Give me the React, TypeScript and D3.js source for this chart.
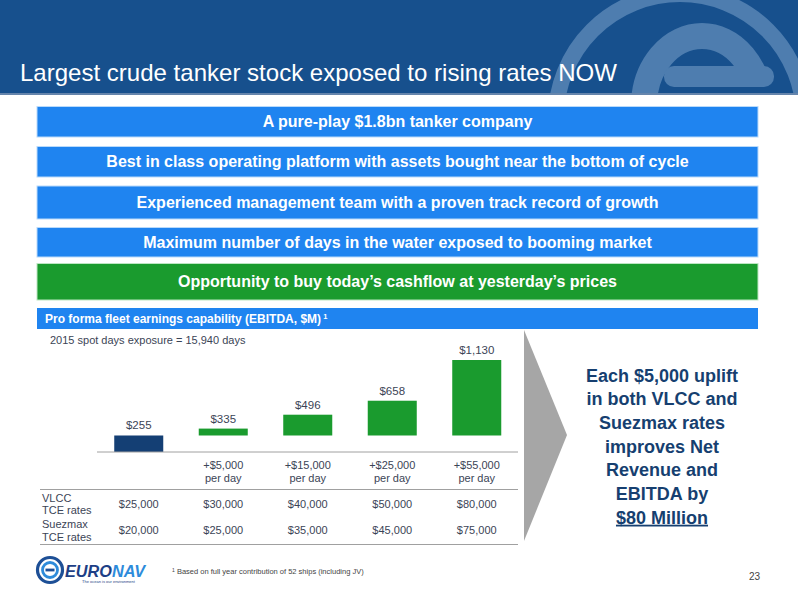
import React from "react";
import * as d3 from "d3";

// ---------- data ----------
const titleText = "Largest crude tanker stock exposed to rising rates NOW";
const bannerTexts = [
  "A pure-play $1.8bn tanker company",
  "Best in class operating platform with assets bought near the bottom of cycle",
  "Experienced management team with a proven track record of growth",
  "Maximum number of days in the water exposed to booming market",
  "Opportunity to buy today\u2019s cashflow at yesterday\u2019s prices",
];
const bannerHighlight = [false, false, false, false, true];
const chartTitle = "Pro forma fleet earnings capability (EBITDA, $M)";
const exposureNote = "2015 spot days exposure = 15,940 days";
const scenarios = ["Base", "+$5,000", "+$15,000", "+$25,000", "+$55,000"];
const upliftUnit = "per day";
const ebitdaValues = [255, 335, 496, 658, 1130];
const vlccRates = [25000, 30000, 40000, 50000, 80000];
const suezmaxRates = [20000, 25000, 35000, 45000, 75000];
const rowLabels = [["VLCC", "TCE rates"], ["Suezmax", "TCE rates"]];
const calloutLines = [
  "Each $5,000 uplift",
  "in both VLCC and",
  "Suezmax rates",
  "improves Net",
  "Revenue and",
  "EBITDA by",
];
const calloutEmphasis = "$80 Million";
const footnote = "Based on full year contribution of 52 ships (including JV)";
const pageNumber = "23";

// ---------- style ----------
const FONT = "'Liberation Sans', Arial, Helvetica, sans-serif";
const HEADER = "#17508D";
const HEADER_LIGHT = "#4E7DAF";
const BLUE = "#1F84F0";
const GREEN = "#1A9B2E";
const NAVY_BAR = "#143F74";
const TEXT = "#3B4456";
const NAVY_TEXT = "#163F70";

const fmtMoney = (v: number) => "$" + d3.format(",")(v);

export default function App() {
  const W = 798;
  const H = 600;

  // bar chart scales
  const x = d3
    .scaleBand<number>()
    .domain(d3.range(ebitdaValues.length))
    .range([96.5, 519])
    .paddingInner(0.42)
    .paddingOuter(0.21);
  const y = d3.scaleLinear().domain([0, 1130]).range([457.5, 360]);
  const axisY = 452;
  const base = ebitdaValues[0];

  const bannerTops = [106.5, 146.5, 186, 227.5, 263.5];
  const bannerHeights = [30.5, 30.5, 33, 29.5, 36.5];

  return (
    <svg
      width={W}
      height={H}
      viewBox={`0 0 ${W} ${H}`}
      style={{ position: "absolute", left: 0, top: 0, background: "#fff" }}
      fontFamily={FONT}
    >
      <defs>
        <clipPath id="hdrClip">
          <rect x={0} y={0} width={W} height={93} />
        </clipPath>
        <clipPath id="cClip">
          <rect x={0} y={0} width={W} height={72} />
          <rect x={0} y={0} width={700} height={93} />
        </clipPath>
      </defs>

      {/* header */}
      <rect x={0} y={0} width={W} height={93} fill={HEADER} />
      <g clipPath="url(#hdrClip)">
        <ellipse cx={680} cy={118} rx={124} ry={124} fill="none" stroke={HEADER_LIGHT} strokeWidth={16} />
        <g clipPath="url(#cClip)">
          <ellipse cx={702} cy={106} rx={58} ry={70} fill="none" stroke={HEADER_LIGHT} strokeWidth={26} />
        </g>
        <rect x={664} y={66} width={110} height={21} rx={10} fill={HEADER_LIGHT} />
      </g>
      <rect x={0} y={93} width={W} height={2} fill="#6585AC" />
      <text x={20} y={81} fill="#fff" fontSize={24} textLength={597} lengthAdjust="spacingAndGlyphs">
        {titleText}
      </text>

      {/* banners */}
      {bannerTexts.map((t, i) => (
        <g key={i}>
          <rect
            x={37}
            y={bannerTops[i]}
            width={721}
            height={bannerHeights[i]}
            fill={bannerHighlight[i] ? GREEN : BLUE}
            stroke={bannerHighlight[i] ? "#BDE6C2" : "#B9DAFB"}
            strokeWidth={1}
          />
          <text
            x={397.5}
            y={bannerTops[i] + bannerHeights[i] / 2 + 5.5}
            textAnchor="middle"
            fill="#fff"
            fontWeight="bold"
            fontSize={16}
          >
            {t}
          </text>
        </g>
      ))}

      {/* chart header strip */}
      <rect x={37} y={308} width={721} height={21} fill={BLUE} />
      <text x={45} y={323} fill="#fff" fontWeight="bold" fontSize={12}>
        {chartTitle}
        <tspan fontSize={7.5} dy={-4}> 1</tspan>
      </text>

      {/* arrow */}
      <path d="M524,330 L567,435 L524,541 Z" fill="#A6A6A6" />

      <text x={50} y={344} fill={TEXT} fontSize={11}>
        {exposureNote}
      </text>

      {/* bars */}
      {ebitdaValues.map((v, i) => {
        const x0 = x(i) as number;
        const top = y(v);
        const bottom = i === 0 ? axisY : y(base);
        return (
          <g key={i}>
            <rect
              x={x0}
              y={top}
              width={x.bandwidth()}
              height={bottom - top}
              fill={i === 0 ? NAVY_BAR : GREEN}
            />
            <text x={x0 + x.bandwidth() / 2} y={top - 6} textAnchor="middle" fill={TEXT} fontSize={11.5}>
              {fmtMoney(v)}
            </text>
          </g>
        );
      })}
      <line x1={97} x2={518} y1={axisY} y2={axisY} stroke="#A0A0A0" strokeWidth={1} />

      {/* table header */}
      {scenarios.map((s, i) =>
        i === 0 ? null : (
          <g key={s}>
            <text x={(x(i) as number) + x.bandwidth() / 2} y={469} textAnchor="middle" fill={TEXT} fontSize={11}>
              {s}
            </text>
            <text x={(x(i) as number) + x.bandwidth() / 2} y={482} textAnchor="middle" fill={TEXT} fontSize={11}>
              {upliftUnit}
            </text>
          </g>
        )
      )}
      <line x1={40} x2={518} y1={489.5} y2={489.5} stroke="#A0A0A0" strokeWidth={1} />

      {[vlccRates, suezmaxRates].map((row, r) => {
        const rowY = r === 0 ? 507.5 : 534;
        return (
          <g key={r}>
            <text x={42} y={rowY - 6} fill={TEXT} fontSize={11}>
              {rowLabels[r][0]}
            </text>
            <text x={42} y={rowY + 6.5} fill={TEXT} fontSize={11}>
              {rowLabels[r][1]}
            </text>
            {row.map((v, i) => (
              <text
                key={i}
                x={(x(i) as number) + x.bandwidth() / 2}
                y={rowY}
                textAnchor="middle"
                fill={TEXT}
                fontSize={11}
              >
                {fmtMoney(v)}
              </text>
            ))}
          </g>
        );
      })}
      <line x1={40} x2={518} y1={544.5} y2={544.5} stroke="#A0A0A0" strokeWidth={1} />

      {/* callout */}
      {calloutLines.map((l, i) => (
        <text
          key={i}
          x={662}
          y={381.5 + i * 23.7}
          textAnchor="middle"
          fill={NAVY_TEXT}
          fontWeight="bold"
          fontSize={18}
        >
          {l}
        </text>
      ))}
      <text
        x={662}
        y={381.5 + calloutLines.length * 23.7}
        textAnchor="middle"
        fill={NAVY_TEXT}
        fontWeight="bold"
        fontSize={18}
        textDecoration="underline"
      >
        {calloutEmphasis}
      </text>

      {/* footer logo */}
      <g>
        <circle cx={50} cy={570} r={12.5} fill="#fff" stroke="#1D4F96" strokeWidth={3.2} />
        <circle cx={50} cy={570} r={7.5} fill="none" stroke="#2E8BDA" strokeWidth={2.8} />
        <rect x={45.5} y={568.6} width={9} height={2.8} fill="#1D4F96" />
        <text x={65} y={576.5} fontSize={16} fontWeight="bold" fontStyle="italic" textLength={80} lengthAdjust="spacingAndGlyphs">
          <tspan fill="#1D3F86">EURO</tspan>
          <tspan fill="#2D8BDB">NAV</tspan>
        </text>
        <text x={82} y={583} fontSize={4} fill="#1D3F86">
          The ocean is our environment
        </text>
      </g>
      <text x={172} y={574} fontSize={7.5} fill="#444">
        <tspan fontSize={5} dy={-2.5}>1</tspan>
        <tspan dy={2.5}> {footnote}</tspan>
      </text>
      <text x={760} y={580} textAnchor="end" fontSize={10} fill="#444">
        {pageNumber}
      </text>
    </svg>
  );
}
